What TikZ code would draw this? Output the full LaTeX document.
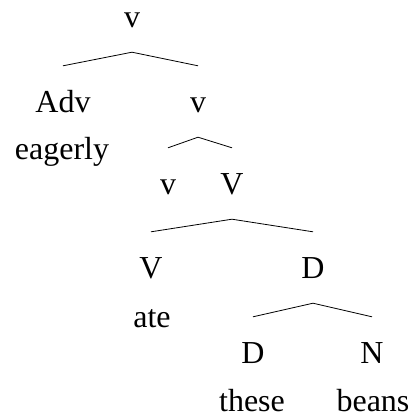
\documentclass[tikz,border=0pt]{standalone}
\usepackage{fontspec}
\setmainfont{Liberation Serif}
\tikzset{
  cat/.style={anchor=base,inner sep=10pt,text height=36pt,text depth=15pt,font=\fontsize{32}{38}\selectfont},
  word/.style={anchor=base,inner sep=0pt,font=\fontsize{32}{38}\selectfont},
  branch/.style={line width=0.8pt}
}
\begin{document}
\begin{tikzpicture}[x=1pt,y=-1pt]
\useasboundingbox (0,0) rectangle (417,415);

\node[cat] (vtop) at (132,27) {v};
\node[cat] (adv) at (63,112) {Adv};
\node[cat] (vbar) at (198,112) {v};
\node[word] (eagerly) at (62,159) {eagerly};
\node[cat] (vlow) at (168,194) {v};
\node[cat] (VP) at (232,194) {V};
\node[cat] (V) at (151,278) {V};
\node[cat] (DP) at (313,278) {D};
\node[word] (ate) at (152,327) {ate};
\node[cat] (D) at (253,363) {D};
\node[cat] (N) at (372,363) {N};
\node[word] (these) at (252,411) {these};
\node[word] (beans) at (373,411) {beans};

\draw[branch] (adv.north) -- (vtop.south) -- (vbar.north);
\draw[branch] (vlow.north) -- (vbar.south) -- (VP.north);
\draw[branch] (V.north) -- (VP.south) -- (DP.north);
\draw[branch] (D.north) -- (DP.south) -- (N.north);

\end{tikzpicture}
\end{document}
